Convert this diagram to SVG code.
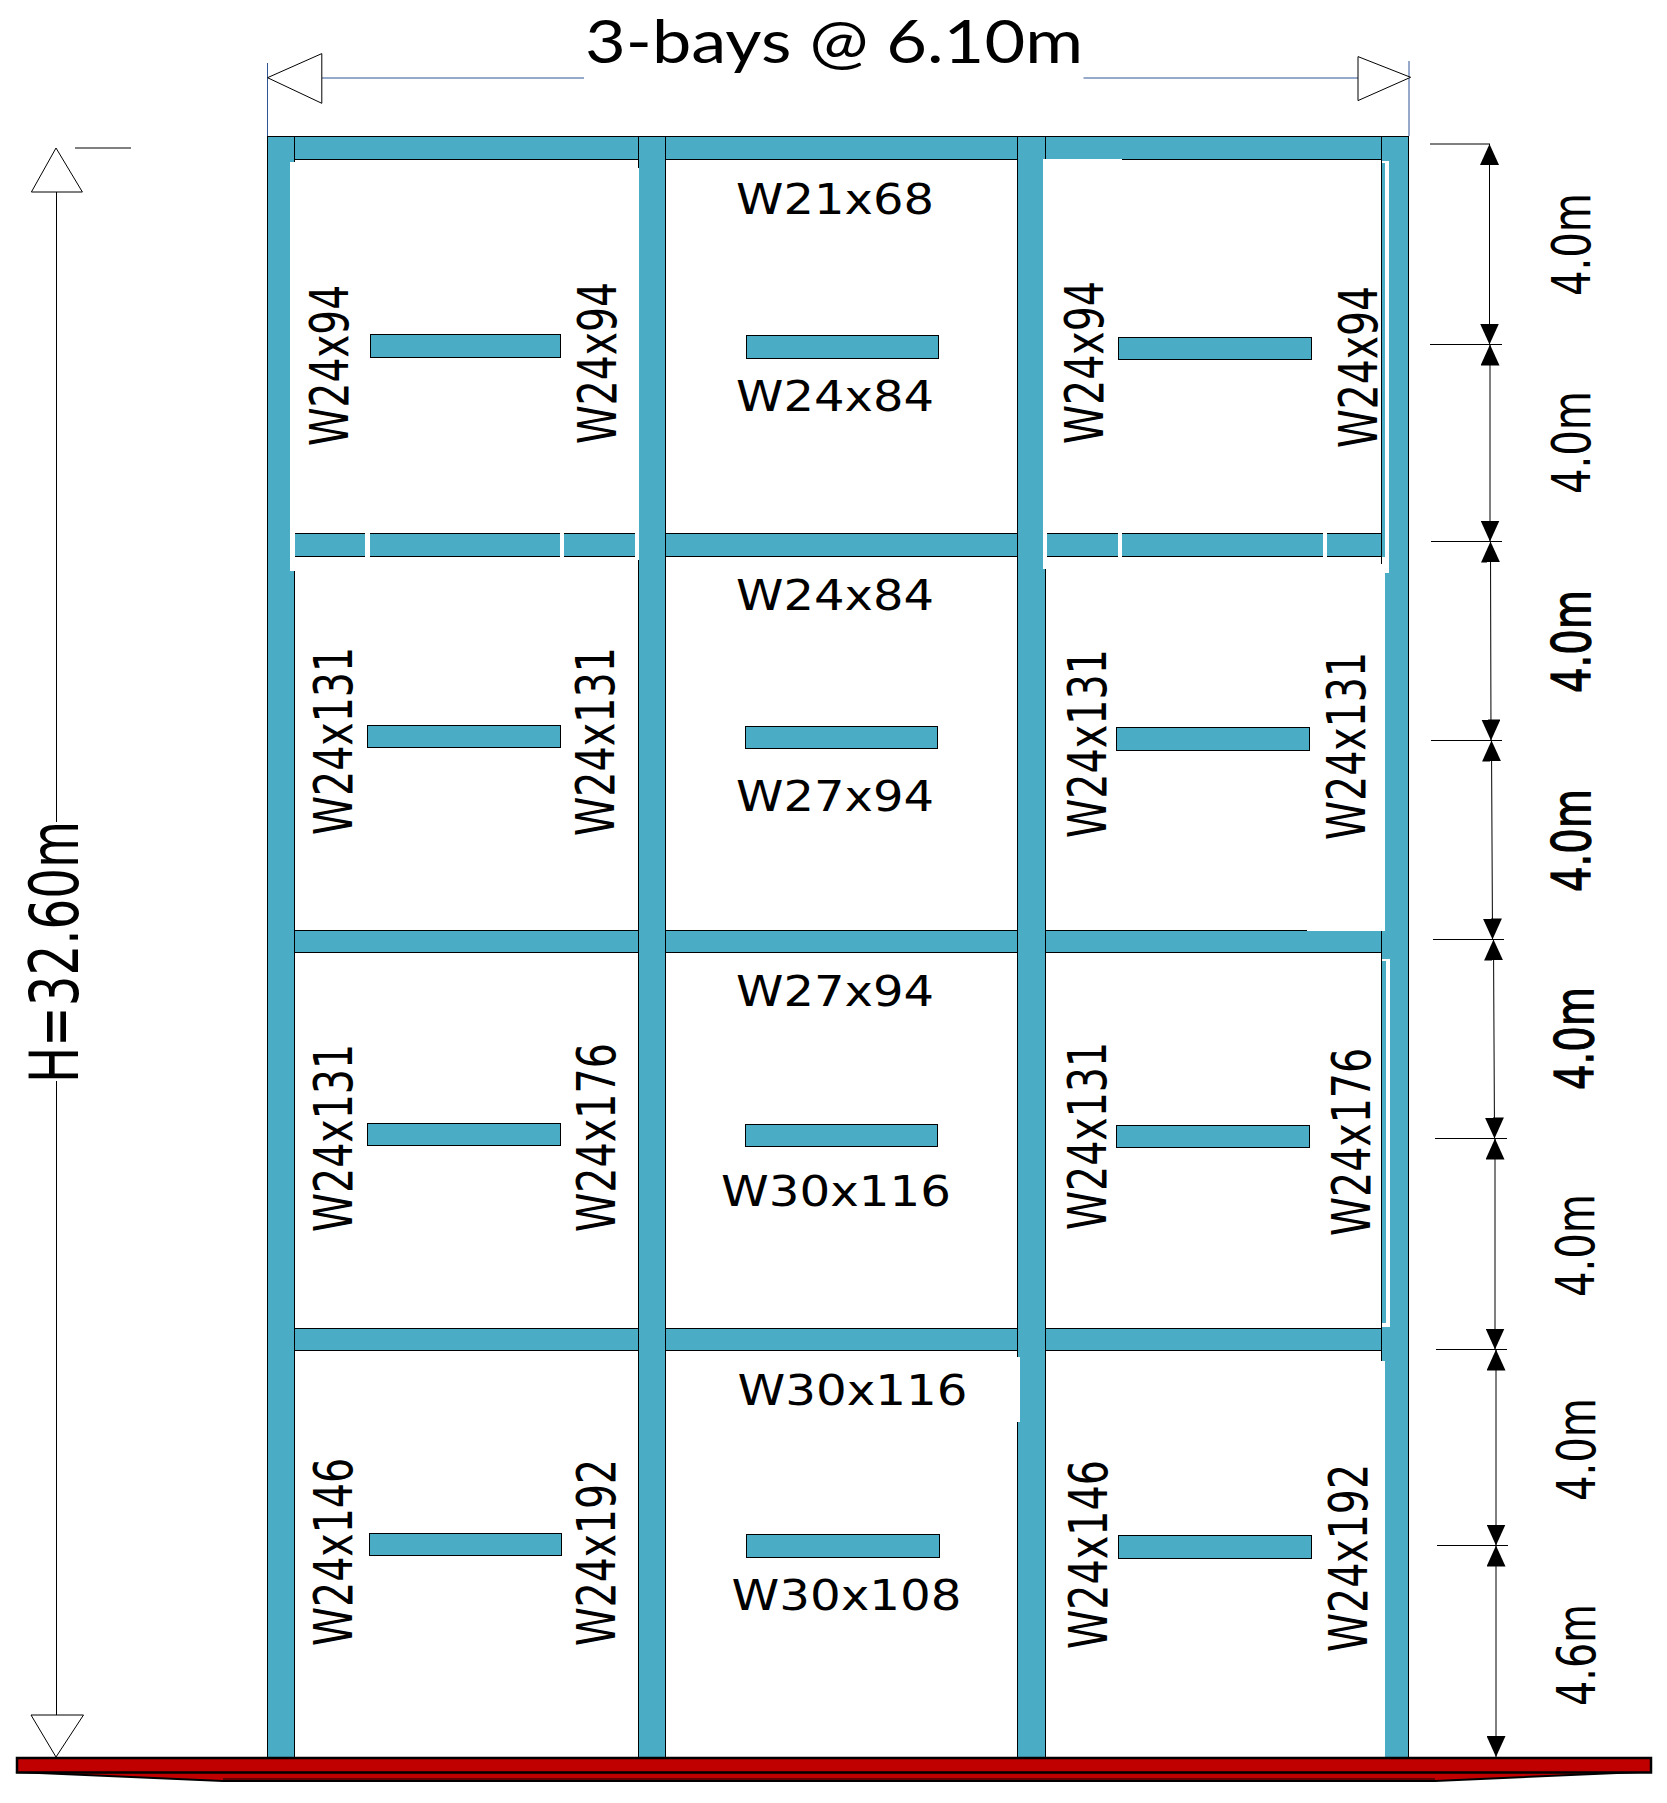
<svg xmlns="http://www.w3.org/2000/svg" width="1667" height="1803" viewBox="0 0 1667 1803">
<style>
.m{fill:#4bacc6;stroke:#000;stroke-width:1;shape-rendering:crispEdges}
.w{fill:#fff;stroke:none;shape-rendering:crispEdges}
.t{font-family:"DejaVu Sans",sans-serif;font-size:42px;fill:#000}
.v{font-family:"DejaVu Sans",sans-serif;font-size:53px;fill:#000}
.b{stroke:#000;stroke-width:1.2}
.d{fill:none;stroke:#000;stroke-width:1;marker-start:url(#a);marker-end:url(#a)}
.l{fill:none;stroke:#000;stroke-width:1}
.n{fill:none;stroke:#2f5597;stroke-width:1}
.o{fill:#fff;stroke:#000;stroke-width:1}
</style>
<defs>
<marker id="a" markerUnits="userSpaceOnUse" markerWidth="21" markerHeight="19" refX="21" refY="9.5" orient="auto-start-reverse"><path d="M0 0L21 9.5L0 19Z" fill="#000"/></marker>
</defs>
<rect width="1667" height="1803" fill="#fff"/>
<g id="beams">
<rect class="m" x="290" y="136.5" width="1100" height="23"/>
<rect class="m" x="290" y="533.5" width="1100" height="23"/>
<rect class="m" x="290" y="930.5" width="1100" height="22"/>
<rect class="m" x="290" y="1328.5" width="1100" height="22"/>
</g>
<g id="columns">
<rect class="m" x="267.5" y="136.5" width="27" height="1625"/>
<rect class="m" x="638.5" y="136.5" width="27" height="1625"/>
<rect class="m" x="1017.5" y="136.5" width="28" height="1625"/>
<rect class="m" x="1381.5" y="136.5" width="27" height="1625"/>
</g>
<g id="overlays">
<rect class="w" x="290" y="162" width="5" height="409"/>
<rect class="w" x="365" y="530" width="5" height="30"/>
<rect class="w" x="560" y="530" width="4" height="30"/>
<rect class="w" x="635" y="530" width="3" height="30"/>
<rect class="w" x="638" y="168" width="1" height="392"/>
<rect class="w" x="1043" y="160" width="4" height="409"/>
<rect class="w" x="1043" y="159" width="79" height="2"/>
<rect class="w" x="1045" y="530" width="2" height="30"/>
<rect class="w" x="1118" y="530" width="4" height="30"/>
<rect class="w" x="1323" y="530" width="4" height="30"/>
<rect class="w" x="1382" y="161" width="7" height="2"/>
<rect class="w" x="1385" y="163" width="4" height="410"/>
<rect class="w" x="1382" y="557" width="7" height="16"/>
<rect class="w" x="1381" y="564" width="4" height="366"/>
<rect class="w" x="1307" y="930" width="78" height="1"/>
<rect class="w" x="1382" y="959" width="8" height="2"/>
<rect class="w" x="1386" y="961" width="4" height="366"/>
<rect class="w" x="1382" y="1323" width="8" height="4"/>
<rect class="w" x="1381" y="1361" width="4" height="396"/>
<rect class="w" x="1017" y="1357" width="3" height="65"/>
</g>
<g id="sections">
<rect class="m" x="370.5" y="334.5" width="190" height="23"/>
<rect class="m" x="746.5" y="335.5" width="192" height="23"/>
<rect class="m" x="1118.5" y="337.5" width="193" height="22"/>
<rect class="m" x="367.5" y="725.5" width="193" height="22"/>
<rect class="m" x="745.5" y="726.5" width="192" height="22"/>
<rect class="m" x="1116.5" y="727.5" width="193" height="23"/>
<rect class="m" x="367.5" y="1123.5" width="193" height="22"/>
<rect class="m" x="745.5" y="1124.5" width="192" height="22"/>
<rect class="m" x="1116.5" y="1125.5" width="193" height="22"/>
<rect class="m" x="369.5" y="1533.5" width="192" height="22"/>
<rect class="m" x="746.5" y="1534.5" width="193" height="23"/>
<rect class="m" x="1118.5" y="1535.5" width="193" height="23"/>
</g>
<g id="ground">
<path d="M16 1772L223 1781H1435L1652 1771.5Z" fill="#c00000" stroke="#000" stroke-width="2"/>
<path class="l" d="M223 1779H1435"/>
<rect x="17" y="1758" width="1634" height="14.5" fill="#c00000" stroke="#000" stroke-width="2.5"/>
</g>
<g id="connectors">
<path class="n" d="M267.5 63V136M322 78H584M1083.5 78H1358M1409 61V136"/>
<path class="o" d="M267.5 77.7L321.8 53.6V103.3Z"/>
<path class="o" d="M1410.6 77.3L1358 56.6V100.6Z"/>
<path class="l" d="M56.5 192V822M56.5 1081V1715M75 148H131"/>
<path class="o" d="M56 148L82.4 192H31.4Z"/>
<path class="o" d="M56 1757L83.5 1715H31Z"/>
<path class="l" d="M1430 144H1490M1430 344.5H1502M1431 541.5H1502M1431 740.5H1502M1433 939.5H1504M1435 1138.5H1507M1436 1349.5H1507M1437 1545.5H1508"/>
<path class="d" d="M1489.5 144V344.5"/>
<path class="d" d="M1490 344.5V541.5"/>
<path class="d" d="M1490.5 541.5L1491 740.5"/>
<path class="d" d="M1491.5 740.5L1492.5 939.5"/>
<path class="d" d="M1493.5 939.5L1494.5 1138.5"/>
<path class="d" d="M1495 1138.5V1349.5"/>
<path class="d" d="M1496 1349.5V1545.5"/>
<path class="d" d="M1496 1545.5V1757"/>
</g>
<g id="labels">
<text x="585" y="63" font-family="Lato,'Open Sans',sans-serif" font-size="60" textLength="498" lengthAdjust="spacingAndGlyphs">3-bays @ 6.10m</text>
<text class="t" x="736" y="213.5" textLength="198" lengthAdjust="spacingAndGlyphs">W21x68</text>
<text class="t" x="736" y="410.5" textLength="198" lengthAdjust="spacingAndGlyphs">W24x84</text>
<text class="t" x="736" y="609.5" textLength="198" lengthAdjust="spacingAndGlyphs">W24x84</text>
<text class="t" x="736" y="810.5" textLength="198" lengthAdjust="spacingAndGlyphs">W27x94</text>
<text class="t" x="736" y="1005.5" textLength="198" lengthAdjust="spacingAndGlyphs">W27x94</text>
<text class="t" x="721" y="1205.5" textLength="230" lengthAdjust="spacingAndGlyphs">W30x116</text>
<text class="t" x="737.5" y="1404.5" textLength="230" lengthAdjust="spacingAndGlyphs">W30x116</text>
<text class="t" x="731.5" y="1610" textLength="230" lengthAdjust="spacingAndGlyphs">W30x108</text>
<text class="v" transform="translate(347.5 446) rotate(-90)" textLength="161" lengthAdjust="spacingAndGlyphs">W24x94</text>
<text class="v" transform="translate(616 444) rotate(-90)" textLength="162" lengthAdjust="spacingAndGlyphs">W24x94</text>
<text class="v" transform="translate(1102.5 444) rotate(-90)" textLength="163" lengthAdjust="spacingAndGlyphs">W24x94</text>
<text class="v" transform="translate(1376.5 448) rotate(-90)" textLength="162" lengthAdjust="spacingAndGlyphs">W24x94</text>
<text class="v" transform="translate(351.5 835) rotate(-90)" textLength="188" lengthAdjust="spacingAndGlyphs">W24x131</text>
<text class="v" transform="translate(614 836) rotate(-90)" textLength="189" lengthAdjust="spacingAndGlyphs">W24x131</text>
<text class="v" transform="translate(1105.5 838) rotate(-90)" textLength="189" lengthAdjust="spacingAndGlyphs">W24x131</text>
<text class="v" transform="translate(1365 840) rotate(-90)" textLength="188" lengthAdjust="spacingAndGlyphs">W24x131</text>
<text class="v" transform="translate(351.5 1232) rotate(-90)" textLength="188" lengthAdjust="spacingAndGlyphs">W24x131</text>
<text class="v" transform="translate(615 1232) rotate(-90)" textLength="189" lengthAdjust="spacingAndGlyphs">W24x176</text>
<text class="v" transform="translate(1105.5 1230) rotate(-90)" textLength="188" lengthAdjust="spacingAndGlyphs">W24x131</text>
<text class="v" transform="translate(1370 1236) rotate(-90)" textLength="188" lengthAdjust="spacingAndGlyphs">W24x176</text>
<text class="v" transform="translate(352 1646) rotate(-90)" textLength="188" lengthAdjust="spacingAndGlyphs">W24x146</text>
<text class="v" transform="translate(614.5 1646) rotate(-90)" textLength="187" lengthAdjust="spacingAndGlyphs">W24x192</text>
<text class="v" transform="translate(1107 1649) rotate(-90)" textLength="189" lengthAdjust="spacingAndGlyphs">W24x146</text>
<text class="v" transform="translate(1366.5 1652) rotate(-90)" textLength="188" lengthAdjust="spacingAndGlyphs">W24x192</text>
<text class="v" transform="translate(1590 296) rotate(-90)" textLength="103" lengthAdjust="spacingAndGlyphs">4.0m</text>
<text class="v" transform="translate(1590 494) rotate(-90)" textLength="103" lengthAdjust="spacingAndGlyphs">4.0m</text>
<text class="v b" transform="translate(1589.5 693) rotate(-90)" textLength="103" lengthAdjust="spacingAndGlyphs">4.0m</text>
<text class="v b" transform="translate(1590 892) rotate(-90)" textLength="103" lengthAdjust="spacingAndGlyphs">4.0m</text>
<text class="v b" transform="translate(1592.5 1090) rotate(-90)" textLength="103" lengthAdjust="spacingAndGlyphs">4.0m</text>
<text class="v" transform="translate(1594 1297) rotate(-90)" textLength="103" lengthAdjust="spacingAndGlyphs">4.0m</text>
<text class="v" transform="translate(1595 1501) rotate(-90)" textLength="103" lengthAdjust="spacingAndGlyphs">4.0m</text>
<text class="v" transform="translate(1595 1706) rotate(-90)" textLength="102" lengthAdjust="spacingAndGlyphs">4.6m</text>
<text transform="translate(78 1083) rotate(-90)" font-family="'DejaVu Sans',sans-serif" font-size="67" textLength="262" lengthAdjust="spacingAndGlyphs">H=32.60m</text>
</g>
</svg>
